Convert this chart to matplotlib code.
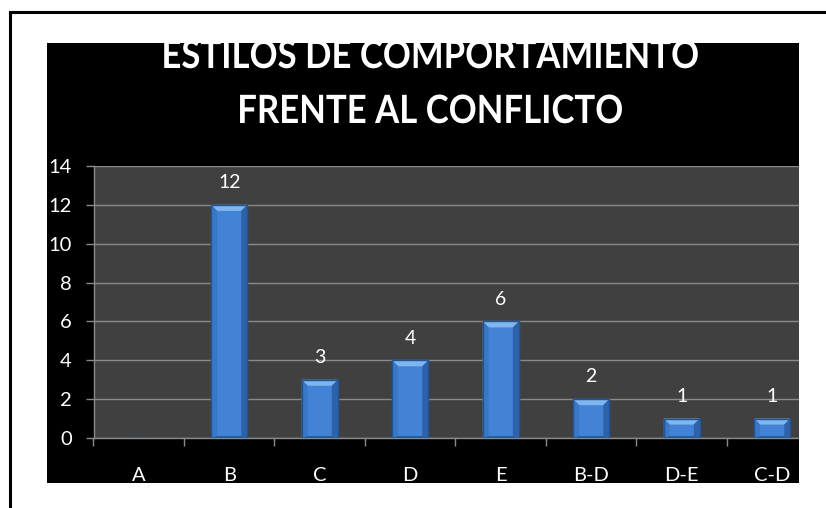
import matplotlib
matplotlib.use("Agg")
import matplotlib.pyplot as plt
from matplotlib.patches import Rectangle, Polygon, PathPatch
from matplotlib.lines import Line2D
from matplotlib.textpath import TextPath
from matplotlib.font_manager import FontProperties
from matplotlib.transforms import Affine2D

categories = ['A', 'B', 'C', 'D', 'E', 'B-D', 'D-E', 'C-D']
values = [0, 12, 3, 4, 6, 2, 1, 1]
title_lines = ['ESTILOS DE COMPORTAMIENTO', 'FRENTE AL CONFLICTO']

W, H = 826, 508
fig = plt.figure(figsize=(W / 100, H / 100), dpi=100)
fig.patch.set_facecolor('white')


def fx(px):
    return px / W


def fy(py):
    return 1 - py / H


# black chart background
fig.add_artist(Rectangle((fx(47), fy(483)), fx(799) - fx(47), fy(43) - fy(483),
                         transform=fig.transFigure, facecolor='black', edgecolor='none', zorder=-5))

ax = fig.add_axes([fx(93.5), fy(438), fx(799) - fx(93.5), fy(166) - fy(438)])
ax.set_facecolor('#404040')
ax.set_xlim(-0.5, 7.296)
ax.set_ylim(0, 14)

font = 'Lato'
grid_c = '#8a8a8a'

ax.set_yticks(range(0, 15, 2))
ax.yaxis.grid(True, color=grid_c, linewidth=1)
ax.set_axisbelow(True)
ax.set_xticks(range(len(categories)))
ax.set_xticklabels(categories)
ax.set_xticks([i - 0.5 for i in range(len(categories))], minor=True)
ax.tick_params(axis='x', which='major', length=0, pad=21, labelsize=14.5, labelcolor='white')
ax.tick_params(axis='x', which='minor', length=6, width=1, color=grid_c, direction='out')
ax.tick_params(axis='y', length=6, width=1, color=grid_c, pad=9.5, labelsize=14.5, labelcolor='white')
for lab in ax.get_xticklabels() + ax.get_yticklabels():
    lab.set_family(font)
for s in ['top', 'right']:
    ax.spines[s].set_visible(False)
for s in ['left', 'bottom']:
    ax.spines[s].set_color(grid_c)
    ax.spines[s].set_linewidth(1)

bar_w = 0.4
bars = ax.bar(range(len(categories)), values, width=bar_w, color='#4283d6',
              edgecolor='#24548f', linewidth=1, zorder=3)

fig.canvas.draw()
inv = ax.transData.inverted()
bev = 6
for b, v in zip(bars, values):
    if v == 0:
        continue
    x0, y0 = ax.transData.transform((b.get_x(), 0))
    x1, y1 = ax.transData.transform((b.get_x() + b.get_width(), v))
    d = min(bev, (y1 - y0) / 2)
    faces = [
        ([(x0, y1), (x1, y1), (x1 - bev, y1 - d), (x0 + bev, y1 - d)], '#80b6f0'),
        ([(x0, y0), (x0, y1), (x0 + bev, y1 - d), (x0 + bev, y0 + 2)], '#3a78c6'),
        ([(x1, y0), (x1, y1), (x1 - bev, y1 - d), (x1 - bev, y0 + 2)], '#2d62a8'),
        ([(x0, y0), (x1, y0), (x1 - bev, y0 + 2), (x0 + bev, y0 + 2)], '#2a5c9e'),
    ]
    for pts, c in faces:
        ax.add_patch(Polygon(inv.transform(pts), closed=True, facecolor=c,
                             edgecolor='none', zorder=4))
    ax.add_patch(Rectangle((b.get_x(), 0), b.get_width(), v, facecolor='none',
                           edgecolor='#24548f', linewidth=1, zorder=5))
    ax.annotate(str(v), (b.get_x() + b.get_width() / 2, v), xytext=(0, 12),
                textcoords='offset points', ha='center', va='baseline',
                color='white', fontsize=14, family=font, zorder=6)

# title: bold Lato squeezed a little to look like the narrow original face
prop = FontProperties(family=font, weight='bold')
sx = 0.89
for line, base in zip(title_lines, [68, 123]):
    tp = TextPath((0, 0), line, size=39, prop=prop)
    ext = tp.get_extents()
    x_off = 431 - sx * (ext.x0 + ext.x1) / 2
    tr = Affine2D().scale(sx / 100, 1 / 100).translate(x_off / 100, (H - base) / 100) + fig.dpi_scale_trans
    fig.add_artist(PathPatch(tp, transform=tr, facecolor='white', edgecolor='none', zorder=2))

# crop like the screenshot
fig.add_artist(Rectangle((0, fy(43)), 1, 1 - fy(43), transform=fig.transFigure,
                         facecolor='white', edgecolor='none', zorder=10))
fig.add_artist(Rectangle((0, 0), 1, fy(483), transform=fig.transFigure,
                         facecolor='white', edgecolor='none', zorder=10))
fig.add_artist(Rectangle((fx(799), 0), 1 - fx(799), 1, transform=fig.transFigure,
                         facecolor='white', edgecolor='none', zorder=10))
fig.add_artist(Line2D([fx(10), 1], [fy(12), fy(12)], transform=fig.transFigure,
                      color='black', linewidth=2.2, zorder=11))
fig.add_artist(Line2D([fx(10), fx(10)], [0, fy(12)], transform=fig.transFigure,
                      color='black', linewidth=2.2, zorder=11))

fig.savefig('out.png', dpi=100, facecolor='white')
